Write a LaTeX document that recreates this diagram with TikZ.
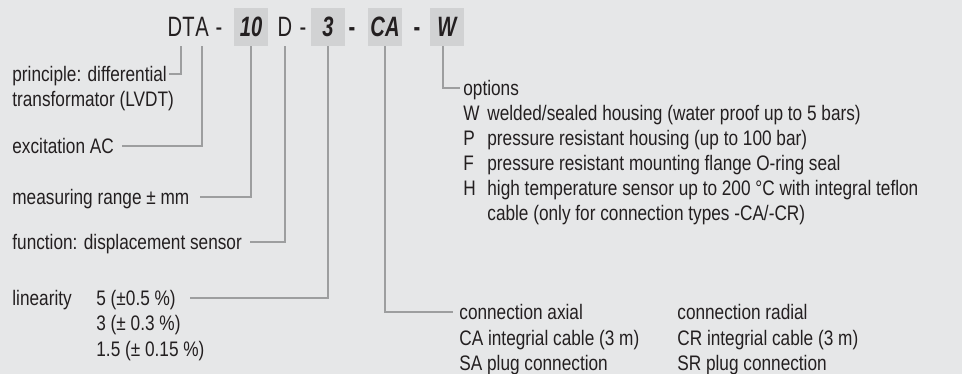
\documentclass[tikz,border=0pt]{standalone}
\usepackage{fontspec}
\setmainfont{Liberation Sans}[FakeStretch=0.82]
\newfontfamily\headfont{Liberation Sans}[FakeStretch=0.72]
\usepackage{xcolor}
\definecolor{Paper}{HTML}{E6E7E8}
\definecolor{CodeBox}{HTML}{D1D2D3}
\definecolor{Lead}{HTML}{9D9E9F}
\definecolor{Ink}{HTML}{231F20}
\usepackage{tikz}
\usetikzlibrary{positioning}

\begin{document}
\begin{tikzpicture}[
  x=0.5pt, y=-0.5pt,
  every node/.style={text=Ink},
  hdr/.style={font=\headfont\fontsize{14}{16}\selectfont,inner sep=0pt,minimum height=19pt,text height=10pt,text depth=0pt},
  codebox/.style={hdr,font=\headfont\fontsize{14}{16}\selectfont\bfseries\itshape,fill=CodeBox,minimum width=17pt},
  note/.style={font=\fontsize{10.5}{12}\selectfont,inner ysep=0pt,inner xsep=4pt,text height=7.5pt,text depth=0pt},
  lead/.style={draw=Lead,line width=0.75pt}
]
  \fill[Paper] (0,0) rectangle (962,374);
  \useasboundingbox (0,0) rectangle (962,374);

  % type code
  \node[hdr,anchor=east] (dt) at (195,27) {DT};
  \node[hdr,right=0pt of dt] (a) {A};
  \node[hdr] (dash1) at (219,27) {-};
  \node[codebox] (ten) at (251,27) {10};
  \node[hdr] (d) at (285,27) {D};
  \node[hdr] (dash2) at (303,27) {-};
  \node[codebox] (three) at (328,27) {3};
  \node[hdr,font=\headfont\fontsize{14}{16}\selectfont\bfseries] (dash3) at (352,27) {-};
  \node[codebox] (ca) at (385,27) {CA};
  \node[hdr,font=\headfont\fontsize{14}{16}\selectfont\bfseries] (dash4) at (417,27) {-};
  \node[codebox] (w) at (447,27) {W};

  % left column
  \node[note,anchor=west,inner xsep=1pt] (principle) at (10,74) {principle: differential};
  \node[note,anchor=west] (lvdt) at (4,99) {transformator (LVDT)};
  \node[note,anchor=west] (excite) at (4,146) {excitation AC};
  \node[note,anchor=west,inner xsep=5pt] (range) at (2,197) {measuring range ± mm};
  \node[note,anchor=west] (func) at (4,242) {function: displacement sensor};
  \node[note,anchor=west] (lin) at (4,298) {linearity};
  \node[note,anchor=west,inner xsep=7pt] (lin5) at (82,298) {5 (±0.5 \%)};
  \node[note,anchor=west] (lin3) at (88,323) {3 (± 0.3 \%)};
  \node[note,anchor=west] (lin15) at (88,349) {1.5 (± 0.15 \%)};

  % options
  \node[note,anchor=west,inner xsep=1.5pt] (options) at (460,88) {options};
  \node[note,anchor=west] (optw) at (455,113) {W};
  \node[note,anchor=west] (optwtxt) at (479,113) {welded/sealed housing (water proof up to 5 bars)};
  \node[note,anchor=west] (optp) at (455,138) {P};
  \node[note,anchor=west] (optptxt) at (479,138) {pressure resistant housing (up to 100 bar)};
  \node[note,anchor=west] (optf) at (455,163) {F};
  \node[note,anchor=west] (optftxt) at (479,163) {pressure resistant mounting flange O-ring seal};
  \node[note,anchor=west] (opth) at (455,188) {H};
  \node[note,anchor=west] (opthtxt) at (479,188) {high temperature sensor up to 200 °C with integral teflon};
  \node[note,anchor=west] (opthcable) at (479,213) {cable (only for connection types -CA/-CR)};

  % connections
  \node[note,anchor=west,inner xsep=3pt] (conax) at (453,312) {connection axial};
  \node[note,anchor=west] (cacable) at (451,338) {CA integrial cable (3 m)};
  \node[note,anchor=west] (saplug) at (451,363) {SA plug connection};
  \node[note,anchor=west] (conrad) at (669,312) {connection radial};
  \node[note,anchor=west] (crcable) at (669,338) {CR integrial cable (3 m)};
  \node[note,anchor=west] (srplug) at (669,363) {SR plug connection};

  \draw[lead] (dt.south) |- (principle.east);
  \draw[lead] (a.south) |- (excite.east);
  \draw[lead] (ten.south) |- (range.east);
  \draw[lead] (d.south) |- (func.east);
  \draw[lead] (three.south) |- (lin5.east);
  \draw[lead] (ca.south) |- (conax.west);
  \draw[lead] ([xshift=-2pt]w.south) |- (options.west);
\end{tikzpicture}
\end{document}
